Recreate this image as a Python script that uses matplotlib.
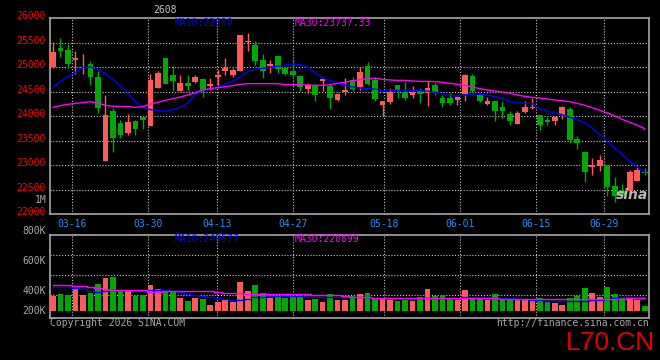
import matplotlib
matplotlib.use("Agg")
import matplotlib.pyplot as plt
from matplotlib.transforms import ScaledTranslation, blended_transform_factory
import numpy as np

# ---------------- data ----------------
opens = [24993, 25388, 25347, 25136, 24980, 25061, 24803, 23088, 24102, 23857,
         23653, 23898, 23980, 23803, 24578, 25184, 24837, 24517, 24673, 24701,
         24755, 24619, 24803, 24912, 24830, 24912, 25510, 25442, 25143, 25020,
         25218, 24980, 24912, 24809, 24544, 24605, 24707, 24619, 24333, 24490,
         24735, 24585, 25020, 24735, 24231, 24286, 24633, 24490, 24435, 24503,
         24463, 24633, 24367, 24367, 24333, 24449, 24809, 24435, 24245, 24299,
         24177, 24041, 23837, 24082, 24163, 24027, 23918, 23905, 24014, 24143,
         23530, 23272, 22959, 22986, 23000, 22564, 22462, 22462, 22680, 22857]
highs = [25510, 25592, 25469, 25320, 25272, 25129, 24912, 24422, 24163, 23925,
         24041, 23925, 24027, 24857, 24912, 25184, 25014, 24843, 24830, 24837,
         24775, 24769, 24932, 25177, 24980, 25646, 25694, 25524, 25265, 25143,
         25218, 25014, 25170, 24830, 24673, 24653, 24789, 24660, 24463, 24775,
         24789, 24993, 25102, 24789, 24306, 24571, 24633, 24694, 24612, 24571,
         24707, 24673, 24422, 24469, 24381, 24857, 24857, 24469, 24381, 24313,
         24299, 24095, 24109, 24299, 24367, 24027, 23973, 23993, 24197, 24177,
         23585, 23279, 23143, 23211, 23000, 22748, 22612, 22905, 22952, 22939]
lows = [24980, 25197, 24980, 24857, 24857, 24640, 24061, 23088, 23265, 23551,
        23619, 23619, 23741, 23803, 24578, 24660, 24517, 24503, 24503, 24673,
        24381, 24537, 24571, 24843, 24796, 24912, 25333, 25048, 24775, 24877,
        24877, 24830, 24789, 24503, 24469, 24313, 24517, 24150, 24313, 24435,
        24517, 24537, 24639, 24299, 23993, 24245, 24367, 24333, 24367, 24265,
        24211, 24422, 24190, 24218, 24218, 24313, 24469, 24279, 24218, 23905,
        23959, 23823, 23837, 24062, 24150, 23721, 23823, 23823, 23946, 23449,
        23333, 22653, 22803, 22871, 22374, 22245, 22360, 22428, 22680, 22789]
closes = [25306, 25320, 25068, 25177, 25007, 24796, 24163, 24020, 23551, 23612,
          23878, 23741, 23925, 24735, 24877, 24660, 24707, 24667, 24619, 24796,
          24537, 24660, 24843, 24980, 24939, 25646, 25537, 25129, 24912, 25061,
          24966, 24857, 24830, 24599, 24639, 24435, 24748, 24367, 24449, 24537,
          24558, 24898, 24653, 24347, 24306, 24490, 24503, 24367, 24490, 24449,
          24571, 24469, 24265, 24265, 24381, 24830, 24517, 24299, 24306, 24102,
          24109, 23905, 24061, 24184, 24190, 23823, 23877, 23980, 24184, 23517,
          23449, 22857, 23007, 23095, 22551, 22374, 22394, 22857, 22891, 22830]
ma10 = [24592, 24707, 24809, 24891, 24993, 25000, 24946, 24871, 24741, 24619,
        24469, 24299, 24184, 24129, 24116, 24095, 24129, 24177, 24265, 24449,
        24524, 24558, 24599, 24653, 24707, 24809, 24912, 24952, 24973, 24993,
        25014, 25041, 25061, 25048, 24993, 24877, 24775, 24721, 24673, 24633,
        24592, 24571, 24565, 24551, 24517, 24531, 24524, 24517, 24517, 24517,
        24510, 24483, 24449, 24415, 24408, 24429, 24449, 24442, 24429, 24395,
        24354, 24299, 24265, 24258, 24252, 24150, 24095, 24061, 24027, 23973,
        23925, 23857, 23755, 23619, 23483, 23347, 23211, 23075, 22966, 22843]
ma30 = [24177, 24211, 24238, 24258, 24272, 24292, 24265, 24218, 24197, 24197,
        24190, 24177, 24190, 24245, 24279, 24320, 24354, 24388, 24429, 24476,
        24531, 24558, 24578, 24599, 24619, 24646, 24660, 24660, 24660, 24660,
        24660, 24639, 24639, 24639, 24633, 24626, 24626, 24639, 24667, 24687,
        24721, 24741, 24762, 24769, 24748, 24735, 24728, 24728, 24714, 24707,
        24707, 24701, 24687, 24667, 24646, 24626, 24592, 24558, 24531, 24510,
        24490, 24463, 24429, 24401, 24381, 24367, 24347, 24326, 24313, 24292,
        24258, 24218, 24170, 24116, 24061, 24000, 23932, 23871, 23810, 23741]
# volume (thousands)
volumes = [350, 370, 360, 420, 360, 377, 470, 530, 540, 403,
           403, 350, 360, 460, 420, 393, 393, 333, 300, 327,
           317, 260, 293, 320, 293, 490, 400, 460, 380, 333,
           347, 330, 347, 357, 310, 323, 290, 370, 310, 310,
           350, 370, 380, 330, 330, 310, 300, 310, 303, 343,
           420, 350, 357, 330, 310, 410, 337, 330, 310, 370,
           323, 310, 310, 310, 300, 330, 290, 283, 260, 330,
           350, 430, 380, 337, 440, 370, 330, 343, 310, 250]
vol_ma10 = [440, 443, 440, 430, 420, 397, 387, 400, 410, 410,
            407, 403, 407, 410, 410, 410, 403, 390, 370, 357,
            347, 337, 330, 317, 307, 313, 323, 337, 343, 347,
            347, 347, 347, 347, 340, 340, 337, 337, 337, 337,
            337, 337, 337, 333, 330, 330, 327, 327, 327, 327,
            330, 330, 330, 330, 330, 337, 337, 337, 337, 330,
            330, 330, 323, 323, 313, 310, 303, 297, 297, 297,
            303, 303, 310, 310, 323, 330, 337, 343, 343, 343]
vol_ma30 = [457, 457, 457, 453, 447, 443, 430, 423, 413, 407,
            407, 407, 407, 390, 387, 397, 397, 400, 403, 403,
            397, 397, 390, 383, 377, 377, 370, 370, 370, 370,
            370, 370, 370, 370, 370, 363, 357, 357, 357, 350,
            343, 337, 337, 330, 327, 327, 327, 327, 327, 327,
            327, 327, 327, 327, 327, 327, 327, 327, 327, 327,
            323, 323, 323, 323, 323, 323, 323, 323, 323, 323,
            323, 320, 320, 320, 320, 320, 320, 327, 330, 330]
date_labels = ["03-16", "03-30", "04-13", "04-27", "05-18", "06-01", "06-15", "06-29"]
date_pos = [2.58, 12.72, 21.94, 32.08, 44.23, 54.38, 64.55, 73.62]
price_ticks = [22000, 22500, 23000, 23500, 24000, 24500, 25000, 25500, 26000]
vol_label_text = ["200K", "400K", "600K", "800K"]
vol_label_pos = [200, 400, 700, 1000]

# ---------------- style ----------------
W, H = 660, 360
RED = "#FF5A5A"
GREEN = "#00A800"
GRID = "#C8C8C8"
BORDER = "#A8A8A8"
LBL = "#A8A8A8"
MONO = "DejaVu Sans Mono"
FS = 7

fig = plt.figure(figsize=(W / 100, H / 100), dpi=100, facecolor="black")


def axes_px(l, t, r, b):
    return fig.add_axes([l / W, 1 - b / H, (r - l) / W, (b - t) / H], facecolor="black")


axp = axes_px(50, 18, 649, 214)
axv = axes_px(50, 235, 649, 318)

x = np.arange(len(closes))
o = np.array(opens, float)
c = np.array(closes, float)
hi = np.array(highs, float)
lo = np.array(lows, float)
up = c >= o
cols = np.where(up, RED, GREEN)
bw = 0.76

for ax in (axp, axv):
    ax.set_xlim(-0.40, 79.57)
    for s in ax.spines.values():
        s.set_color(BORDER)
        s.set_linewidth(1.2)
    for p in date_pos:
        ax.axvline(p, color=GRID, lw=0.8, ls=(0, (1, 1.6)), zorder=1)

# price panel
axp.set_ylim(22000, 26000)
for v in price_ticks[1:-1]:
    axp.axhline(v, color=GRID, lw=0.8, ls=(0, (1, 1.6)), zorder=1)
axp.vlines(x, lo, hi, colors=cols, lw=1.0, zorder=3)
body = np.maximum(np.abs(c - o), 22)
axp.bar(x, body, bottom=np.minimum(o, c), width=bw, color=cols, linewidth=0, zorder=4)
axp.plot(x, ma10, color="#0000FF", lw=1.0, zorder=5)
axp.plot(x, ma30, color="#FF00FF", lw=1.0, zorder=5)

axp.set_yticks(price_ticks)
axp.set_yticklabels([str(t) for t in price_ticks], color="#FF0000", fontsize=FS, family=MONO)
axp.tick_params(axis="y", length=0, pad=3)
for lab in axp.get_yticklabels():
    lab.set_transform(lab.get_transform() + ScaledTranslation(0, 2 / 72, fig.dpi_scale_trans))
axp.set_xticks(date_pos)
axp.set_xticklabels(date_labels, color="#2A8CFF", fontsize=FS, family=MONO)
axp.tick_params(axis="x", length=0, pad=3.5)

# volume panel
axv.set_ylim(130, 960)
for v in [360, 560, 760]:
    axv.axhline(v, color=GRID, lw=0.8, ls=(0, (1, 1.6)), zorder=1)
vol = np.array(volumes, float)
axv.bar(x, vol - 200, bottom=200, width=bw, color=cols, linewidth=0, zorder=3)
axv.plot(x, vol_ma10, color="#0000FF", lw=1.0, drawstyle="steps-mid", zorder=5)
axv.plot(x, vol_ma30, color="#FF00FF", lw=1.0, drawstyle="steps-mid", zorder=5)
axv.set_xticks([])
axv.set_yticks([])
tr = blended_transform_factory(axv.transAxes, axv.transData)
for t, v in zip(vol_label_text, vol_label_pos):
    axv.text(-4 / 599, v, t, transform=tr, ha="right", va="center", color=LBL,
             fontsize=FS, family=MONO, clip_on=False)


def ftext(px, py, s, **kw):
    fig.text(px / W, 1 - py / H, s, **kw)


ftext(165, 10, "2608", ha="center", va="center", color="#C8C8C8", fontsize=FS, family=MONO)
ftext(175, 23.5, "MA10:22830", ha="left", va="center", color="#0000FF", fontsize=FS, family=MONO)
ftext(295, 23.5, "MA30:23737.33", ha="left", va="center", color="#FF00FF", fontsize=FS, family=MONO)
ftext(175, 238.5, "MA10:249577", ha="left", va="center", color="#0000FF", fontsize=FS, family=MONO)
ftext(295, 238.5, "MA30:220899", ha="left", va="center", color="#FF00FF", fontsize=FS, family=MONO)
ftext(46.5, 200, "1M", ha="right", va="center", color=LBL, fontsize=FS, family=MONO)
ftext(50, 323, "Copyright 2026 SINA.COM", ha="left", va="center", color=LBL, fontsize=FS, family=MONO)
ftext(649, 322.5, "http://finance.sina.com.cn", ha="right", va="center", color=LBL, fontsize=FS, family=MONO)
ftext(632, 195, "sina", ha="center", va="center", color="#D8D8D8", fontsize=10,
      family="DejaVu Sans", style="italic", weight="bold", alpha=0.85)
ftext(611, 350, "L70.CN", ha="center", va="baseline", color="#E00000", fontsize=19,
      family="Liberation Sans")

fig.savefig("out.png", dpi=100, facecolor="black")
